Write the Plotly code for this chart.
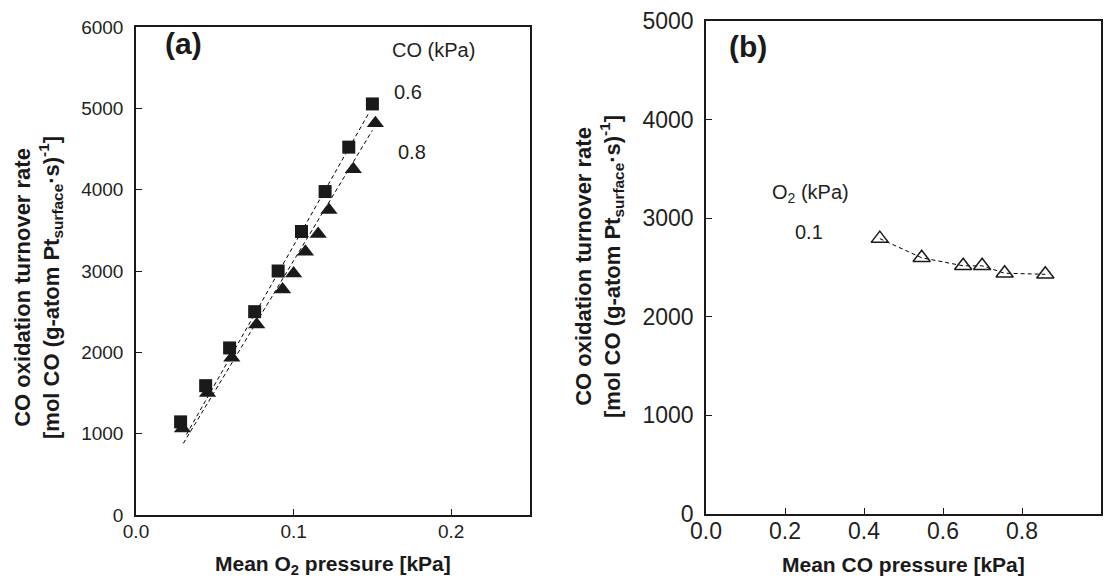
import plotly.graph_objects as go

# ---- Panel (a): rate vs mean O2 pressure ----
o2_co06 = [0.0283, 0.0442, 0.0594, 0.0753, 0.0902, 0.105, 0.120, 0.135, 0.150]
rate_co06 = [1145, 1590, 2054, 2500, 3000, 3486, 3977, 4523, 5054]
o2_co08 = [0.0295, 0.0454, 0.0608, 0.0766, 0.093, 0.100, 0.1075, 0.1156, 0.1224, 0.1379, 0.1519]
rate_co08 = [1064, 1500, 1932, 2341, 2773, 2968, 3236, 3454, 3750, 4250, 4818]
fit_co06_x = [0.032, 0.1474]
fit_co06_y = [990, 4931]
fit_co08_x = [0.030, 0.150]
fit_co08_y = [880, 4730]

# ---- Panel (b): rate vs mean CO pressure ----
co_o201 = [0.44, 0.546, 0.651, 0.699, 0.756, 0.859]
rate_o201 = [2793, 2599, 2517, 2517, 2442, 2431]

xa_ticks = [0.0, 0.1, 0.2]
ya_ticks = [0, 1000, 2000, 3000, 4000, 5000, 6000]
xb_ticks = [0.0, 0.2, 0.4, 0.6, 0.8, 1.0]
yb_ticks = [0, 1000, 2000, 3000, 4000, 5000]

FONT = "Liberation Sans, Arial, sans-serif"
TICKC = "#231f20"
W, H = 1116, 579

fig = go.Figure()

dash = dict(color="black", width=1, dash="4px,3px")
fig.add_trace(go.Scatter(x=fit_co06_x, y=fit_co06_y, mode="lines", line=dash,
                         xaxis="x", yaxis="y", showlegend=False))
fig.add_trace(go.Scatter(x=fit_co08_x, y=fit_co08_y, mode="lines", line=dash,
                         xaxis="x", yaxis="y", showlegend=False))
fig.add_trace(go.Scatter(x=o2_co06, y=rate_co06, mode="markers",
                         marker=dict(symbol="square", size=13, color="#1a1a1a"),
                         xaxis="x", yaxis="y", showlegend=False))
fig.add_trace(go.Scatter(x=o2_co08, y=rate_co08, mode="markers",
                         marker=dict(symbol="triangle-up", size=15, color="#1a1a1a"),
                         xaxis="x", yaxis="y", showlegend=False))

fig.add_trace(go.Scatter(x=co_o201, y=rate_o201, mode="lines+markers",
                         line=dash,
                         marker=dict(symbol="triangle-up-open", size=15, color="#1a1a1a",
                                     line=dict(width=1.5, color="#1a1a1a")),
                         xaxis="x2", yaxis="y2", showlegend=False))


def axis_common(fs):
    return dict(showline=True, linecolor="#1a1a1a", linewidth=1.5, mirror=True,
                ticks="inside", ticklen=6, tickwidth=1, tickcolor="#1a1a1a",
                showgrid=False, zeroline=False, automargin=False,
                tickfont=dict(family=FONT, size=fs, color=TICKC))


fig.update_layout(
    width=W, height=H,
    margin=dict(l=0, r=0, t=0, b=0),
    paper_bgcolor="white", plot_bgcolor="white",
    xaxis=dict(domain=[136/W, 530/W], range=[0, 0.25], tickvals=xa_ticks,
               tickformat=".1f", anchor="y", ticklabelstandoff=-2, **axis_common(19)),
    yaxis=dict(domain=[1-515/H, 1-27/H], range=[0, 6000], tickvals=ya_ticks,
               anchor="x", ticklabelstandoff=7, **axis_common(19)),
    xaxis2=dict(domain=[706/W, 1101/W], range=[0, 1.0], tickvals=xb_ticks,
                tickformat=".1f", anchor="y2", ticklabelstandoff=-4, **axis_common(23)),
    yaxis2=dict(domain=[1-514/H, 1-21/H], range=[0, 5000], tickvals=yb_ticks,
                anchor="x2", ticklabelstandoff=6, **axis_common(23)),
)

ytitle = ("<b>CO oxidation turnover rate</b><br>"
          "<b>[mol CO (g-atom Pt<sub>surface</sub>·s)<sup>-1</sup>]</b>")
ytfont = dict(family=FONT, size=22, color="#1a1a1a")
xtfont = dict(family=FONT, size=21, color="#1a1a1a")
lfont = dict(family=FONT, size=20, color=TICKC)


def px_ann(text, px, py, font, angle=0):
    return dict(text=text, x=px / W, y=1 - py / H, xref="paper", yref="paper",
                xanchor="center", yanchor="middle", textangle=angle,
                showarrow=False, font=font)


ann = [
    px_ann(ytitle, 38, 288, ytfont, -90),
    px_ann(ytitle, 599, 267, ytfont, -90),
    px_ann("<b>Mean O<sub>2</sub> pressure [kPa]</b>", 333, 565, xtfont),
    px_ann("<b>Mean CO pressure [kPa]</b>", 903.5, 564, xtfont),
    dict(text="<b>(a)</b>", x=0.03, y=5800, xref="x", yref="y", showarrow=False,
         font=dict(family=FONT, size=30, color="#1a1a1a")),
    dict(text="<b>(b)</b>", x=0.106, y=4746, xref="x2", yref="y2", showarrow=False,
         font=dict(family=FONT, size=30, color="#1a1a1a")),
    dict(text="CO (kPa)", x=0.189, y=5717, xref="x", yref="y", showarrow=False, font=lfont),
    dict(text="0.6", x=0.1726, y=5201, xref="x", yref="y", showarrow=False, font=lfont),
    dict(text="0.8", x=0.175, y=4463, xref="x", yref="y", showarrow=False, font=lfont),
    dict(text="O<sub>2</sub> (kPa)", x=0.265, y=3250, xref="x2", yref="y2",
         showarrow=False, font=lfont),
    dict(text="0.1", x=0.26, y=2860, xref="x2", yref="y2", showarrow=False, font=lfont),
]
fig.update_layout(annotations=ann)

fig.write_html("out.html", config={"displayModeBar": False},
               post_script="document.body.style.margin='0';document.body.style.overflow='hidden';")
